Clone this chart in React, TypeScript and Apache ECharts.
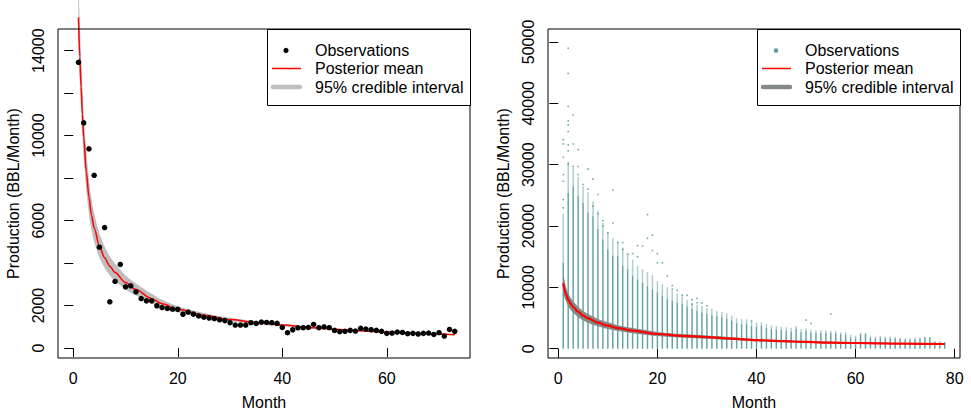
import React, { useEffect, useRef } from "react";
import * as echarts from "echarts";

// ---------- Left panel data (single well) ----------
const obsMonthsL = Array.from({ length: 73 }, (_, i) => i + 1);
const obsValuesL = [
  13450, 10600, 9380, 8130, 4745, 5670, 2175, 3135, 3935, 2880,
  2930, 2645, 2330, 2220, 2220, 1990, 1905, 1865, 1830, 1820,
  1590, 1690, 1595, 1510, 1450, 1410, 1380, 1330, 1290, 1190,
  1080, 1080, 1080, 1190, 1160, 1220, 1205, 1190, 1160, 970,
  720, 860, 950, 955, 970, 1110, 955, 1000, 955, 830,
  770, 785, 830, 800, 925, 890, 860, 830, 785, 690,
  705, 750, 735, 675, 690, 660, 690, 705, 640, 720,
  565, 875, 785,
];
const fitMonthsL = [1, 1.25, 1.5, 1.75, 2, 2.5, 3, 3.5, 4, 5, 6, 7, 8, 10, 12, 15, 17, 20, 25, 30, 35, 40, 46, 50, 55, 60, 65, 70, 73];
const fitMeanL = [15570, 13700, 12300, 11000, 9900, 8300, 7100, 6250, 5650, 4800, 4250, 3850, 3550, 3080, 2750, 2320, 2080, 1820, 1540, 1340, 1200, 1080, 950, 880, 810, 750, 700, 660, 630];
const fitLowL = [14300, 12600, 11200, 10000, 8900, 7450, 6300, 5550, 5000, 4250, 3780, 3420, 3150, 2760, 2470, 2100, 1900, 1680, 1430, 1260, 1135, 1025, 903, 838, 774, 717, 670, 632, 604];
const fitHighL = [17300, 15200, 13700, 12300, 11000, 9300, 7900, 7000, 6350, 5400, 4780, 4320, 3980, 3420, 3040, 2550, 2270, 1970, 1650, 1420, 1265, 1135, 997, 922, 846, 783, 730, 688, 656];

// ---------- Right panel data (all wells) ----------
const colMonthsR = Array.from({ length: 78 }, (_, i) => i + 1);
const colDenseTopR = [
  14000, 25400, 26500, 24900, 23800, 22200, 21600, 19500, 17800, 16200,
  15100, 15100, 13500, 13000, 11900, 11300, 10800, 10200, 9700, 9200,
  8600, 8100, 7800, 7500, 7300, 6900, 6500, 6200, 5900, 5700,
  5500, 5300, 5100, 4900, 4600, 4200, 4000, 4100, 3700, 3600,
  3700, 3400, 3200, 3100, 3100, 2900, 2800, 3200, 2700, 2900,
  2600, 2550, 2550, 2600, 2550, 2500, 2350, 2350, 1850, 1700,
  2350, 2400, 1750, 1700, 1850, 1750, 1700, 1700, 1600, 1450,
  1500, 1600, 1700, 1850, 1850, 1150, 1050, 1050,
];
const colSparseTopR = [
  22000, 30500, 29500, 28000, 26500, 25500, 24000, 22500, 20500, 19000,
  18000, 17500, 16500, 15500, 14500, 13500, 13000, 12500, 12000, 11000,
  10500, 10000, 9500, 9000, 8500, 8000, 7500, 7200, 7000, 6600,
  6500, 6200, 6000, 5800, 5400, 5000, 4800, 4800, 4400, 4300,
  4300, 4000, 3800, 3700, 3600, 3500, 3400, 3700, 3200, 3300,
  3100, 3000, 3000, 3000, 2900, 2900, 2700, 2700, 2300, 2100,
  2600, 2600, 2100, 2000, 2100, 2000, 2000, 1900, 1800, 1700,
  1700, 1800, 1800, 1900, 1900, 1300, 1200, 1100,
];
const outlierMonthsR = [
  1, 1, 1, 1, 1, 1, 1,
  2, 2, 2, 2, 2, 2, 2, 2, 2,
  3, 3, 3, 4, 4, 4, 5, 6, 6, 7, 7, 8, 8, 9, 9, 10, 11, 11, 12, 13, 13, 14, 15, 16, 16, 17,
  18, 18, 19, 19, 20, 20, 21, 22, 23, 23, 24, 25, 26, 27, 27, 28, 28, 29, 30, 39, 50, 51, 55,
];
const outlierValuesR = [
  34070, 33370, 31200, 28390, 27300, 24320, 22960,
  48970, 44860, 39500, 37140, 36490, 35400, 33230, 32260, 30100,
  38090, 33370, 29700, 32450, 29700, 28390, 26760, 29280, 26000, 27650, 23240, 25130, 22000, 20850, 20000, 18910, 25880, 20500, 17280, 16200, 17300, 15400, 15500, 15000, 16800, 16740,
  21870, 18000, 18530, 16000, 15500, 14000, 14000, 11860, 10300, 9700, 9500, 8700, 8700, 7260, 8000, 8190, 7500, 7480, 7000, 4500, 4660, 4120, 5640,
];
const fitMonthsR = [1, 1.5, 2, 2.5, 3, 4, 5, 6, 8, 10, 12, 15, 20, 25, 30, 35, 40, 45, 50, 55, 60, 65, 70, 78];
const fitMeanR = [10650, 9000, 8000, 7300, 6800, 6000, 5400, 4950, 4250, 3750, 3350, 2950, 2400, 2100, 1900, 1650, 1400, 1250, 1100, 1000, 930, 870, 820, 770];
const fitLowR = [9200, 7800, 6950, 6300, 5850, 5150, 4650, 4250, 3650, 3200, 2870, 2530, 2060, 1800, 1630, 1420, 1210, 1080, 950, 870, 810, 760, 720, 670];
const fitHighR = [12100, 10200, 9100, 8300, 7750, 6850, 6150, 5650, 4850, 4300, 3830, 3370, 2740, 2400, 2170, 1880, 1590, 1420, 1250, 1130, 1050, 980, 920, 870];

const yTicksL = [0, 2000, 4000, 6000, 8000, 10000, 12000, 14000];
const yLabelsL = [0, 2000, 6000, 10000, 14000];
const xTicksL = [0, 20, 40, 60];
const yTicksR = [0, 10000, 20000, 30000, 40000, 50000];
const xTicksR = [0, 20, 40, 60, 80];

const legendLabels = ["Observations", "Posterior mean", "95% credible interval"];

const FONT = '"Liberation Sans", Arial, Helvetica, sans-serif';
const TEAL = "#5F9EA0";
const GRAY_L = "#BEBEBE";
const GRAY_R = "#838a88";

function bandSeries(xs: number[], lo: number[], hi: number[], color: string, idx: number, z: number) {
  return {
    type: "custom",
    xAxisIndex: idx,
    yAxisIndex: idx,
    clip: false,
    silent: true,
    z,
    data: xs.map((x, i) => [x, lo[i], hi[i]]),
    encode: { x: 0, y: [1, 2] },
    renderItem: (params: any, api: any) => {
      if (params.dataIndex !== 0) return null;
      const pts: number[][] = [];
      for (let i = 0; i < xs.length; i++) pts.push(api.coord([xs[i], hi[i]]));
      for (let i = xs.length - 1; i >= 0; i--) pts.push(api.coord([xs[i], lo[i]]));
      return { type: "polygon", shape: { points: pts, smooth: 0.3 }, style: { fill: color } };
    },
  };
}

function xAxisDef(idx: number, min: number, max: number, ticks: number[]) {
  return {
    type: "value",
    gridIndex: idx,
    min,
    max,
    name: "Month",
    nameLocation: "middle",
    nameGap: 36,
    nameTextStyle: { fontFamily: FONT, fontSize: 16, color: "#000" },
    axisLine: { show: false },
    splitLine: { show: false },
    axisTick: { show: true, length: 9, customValues: ticks, lineStyle: { color: "#000", width: 1 } },
    axisLabel: {
      customValues: ticks,
      margin: 12,
      fontFamily: FONT,
      fontSize: 16,
      color: "#000",
      formatter: (v: number) => String(v),
    },
  };
}

function yAxisDef(idx: number, min: number, max: number, ticks: number[], labels: number[]) {
  return {
    type: "value",
    gridIndex: idx,
    min,
    max,
    name: "Production (BBL/Month)",
    nameLocation: "middle",
    nameGap: 37,
    nameTextStyle: { fontFamily: FONT, fontSize: 16, color: "#000" },
    axisLine: { show: false },
    splitLine: { show: false },
    axisTick: { show: true, length: 9, customValues: ticks, lineStyle: { color: "#000", width: 1 } },
    axisLabel: {
      customValues: labels,
      rotate: 90,
      margin: 12,
      fontFamily: FONT,
      fontSize: 16,
      color: "#000",
      formatter: (v: number) => String(v),
    },
  };
}

function legendGraphics(x0: number, obsColor: string, obsR: number, bandColor: string) {
  const yRows = [50, 68.5, 87.5];
  const els: any[] = [
    {
      type: "rect",
      shape: { x: x0 + 0.5, y: 29.5, width: 203, height: 76 },
      style: { fill: "#fff", stroke: "#000", lineWidth: 1 },
      z: 100,
    },
    { type: "circle", shape: { cx: x0 + 19, cy: yRows[0] + 0.5, r: obsR }, style: { fill: obsColor }, z: 101 },
    {
      type: "line",
      shape: { x1: x0 + 5, y1: yRows[1], x2: x0 + 34, y2: yRows[1] },
      style: { stroke: "#FF0000", lineWidth: 1.5 },
      z: 101,
    },
    {
      type: "line",
      shape: { x1: x0 + 6, y1: yRows[2] - 0.5, x2: x0 + 33, y2: yRows[2] - 0.5 },
      style: { stroke: bandColor, lineWidth: 4.5, lineCap: "round" },
      z: 101,
    },
  ];
  legendLabels.forEach((t, i) => {
    els.push({
      type: "text",
      x: x0 + 48,
      y: yRows[i],
      style: { text: t, fontFamily: FONT, fontSize: 16, fill: "#000", verticalAlign: "middle", align: "left" },
      z: 101,
    });
  });
  return els;
}

export default function App() {
  const ref = useRef<HTMLDivElement>(null);
  useEffect(() => {
    if (!ref.current) return;
    const chart = echarts.init(ref.current, undefined, { renderer: "svg" });
    const option: any = {
      animation: false,
      backgroundColor: "#fff",
      textStyle: { fontFamily: FONT },
      grid: [
        { left: 58, top: 29, width: 412, height: 330, show: true, borderColor: "#000", borderWidth: 1, backgroundColor: "transparent", z: 5 },
        { left: 548, top: 29, width: 412, height: 330, show: true, borderColor: "#000", borderWidth: 1, backgroundColor: "transparent", z: 5 },
      ],
      xAxis: [xAxisDef(0, -2.92, 75.92, xTicksL), xAxisDef(1, -2.08, 81.08, xTicksR)],
      yAxis: [
        yAxisDef(0, -470, 15020, yTicksL, yLabelsL),
        yAxisDef(1, -1512, 52112, yTicksR, yTicksR),
      ],
      series: [
        bandSeries(fitMonthsL, fitLowL, fitHighL, GRAY_L, 0, 1),
        {
          type: "line",
          xAxisIndex: 0,
          yAxisIndex: 0,
          clip: false,
          z: 2,
          silent: true,
          showSymbol: false,
          smooth: 0.3,
          smoothMonotone: "x",
          data: fitMonthsL.map((m, i) => [m, fitMeanL[i]]),
          lineStyle: { color: "#FF0000", width: 1.5 },
        },
        {
          type: "scatter",
          xAxisIndex: 0,
          yAxisIndex: 0,
          z: 3,
          silent: true,
          symbol: "circle",
          symbolSize: 5.5,
          data: obsMonthsL.map((m, i) => [m, obsValuesL[i]]),
          itemStyle: { color: "#000", opacity: 1 },
        },
        {
          type: "custom",
          xAxisIndex: 1,
          yAxisIndex: 1,
          z: 1,
          silent: true,
          data: colMonthsR.map((m, i) => [m, colDenseTopR[i], colSparseTopR[i]]),
          encode: { x: 0, y: [1, 2] },
          renderItem: (params: any, api: any) => {
            const m = api.value(0);
            const p0 = api.coord([m, 0]);
            const p1 = api.coord([m, api.value(1)]);
            const p2 = api.coord([m, api.value(2)]);
            const w = 1.5;
            return {
              type: "group",
              children: [
                { type: "rect", shape: { x: p0[0] - w / 2, y: p2[1], width: w, height: p1[1] - p2[1] }, style: { fill: TEAL, opacity: 0.5 } },
                { type: "rect", shape: { x: p0[0] - w / 2, y: p1[1], width: w, height: p0[1] - p1[1] }, style: { fill: TEAL, opacity: 0.95 } },
              ],
            };
          },
        },
        {
          type: "scatter",
          xAxisIndex: 1,
          yAxisIndex: 1,
          z: 1,
          silent: true,
          symbol: "rect",
          symbolSize: 1.6,
          data: outlierMonthsR.map((m, i) => [m, outlierValuesR[i]]),
          itemStyle: { color: TEAL, opacity: 0.9 },
        },
        bandSeries(fitMonthsR, fitLowR, fitHighR, GRAY_R, 1, 2),
        {
          type: "line",
          xAxisIndex: 1,
          yAxisIndex: 1,
          clip: false,
          z: 3,
          silent: true,
          showSymbol: false,
          smooth: 0.3,
          smoothMonotone: "x",
          data: fitMonthsR.map((m, i) => [m, fitMeanR[i]]),
          lineStyle: { color: "#FF0000", width: 2.2 },
        },
      ],
      graphic: [...legendGraphics(267, "#000", 2.6, GRAY_L), ...legendGraphics(757, TEAL, 2.3, GRAY_R)],
    };
    chart.setOption(option);
    return () => chart.dispose();
  }, []);
  return (
    <div
      ref={ref}
      style={{ position: "absolute", left: 0, top: 0, width: 971, height: 415, background: "#fff" }}
    />
  );
}
